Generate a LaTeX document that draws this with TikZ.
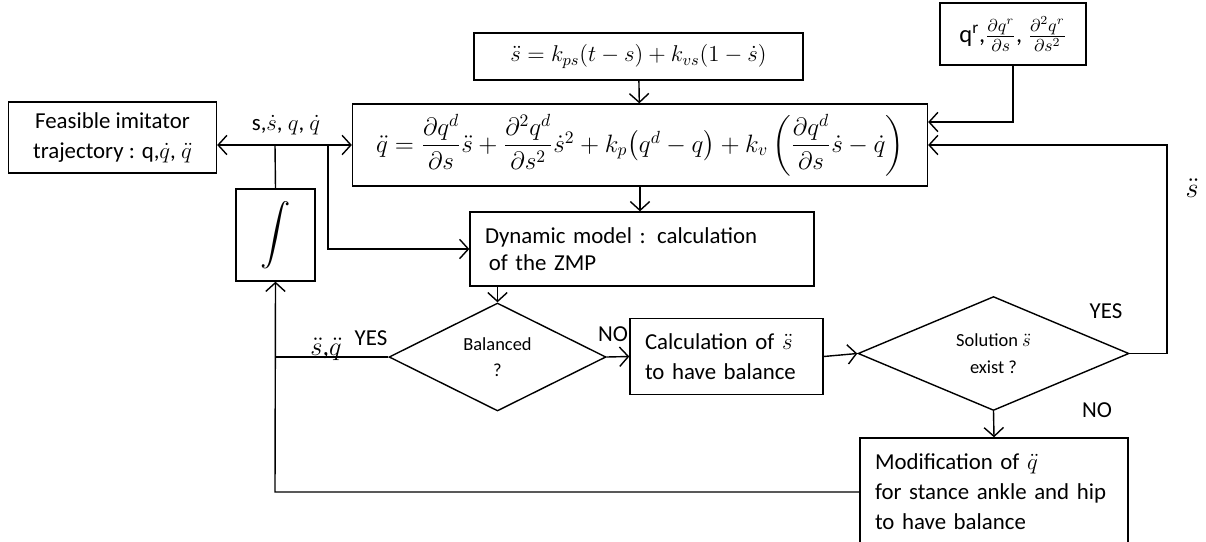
\RequirePackage{fix-cm}
\documentclass[tikz,border=0pt]{standalone}
\usepackage{amsmath}
\usepackage{fontspec}
\setmainfont{Carlito}
\usetikzlibrary{shapes.geometric,arrows.meta}

\tikzset{
    box/.style = {draw, inner sep=0.3cm, align=left, font=\fontsize{13}{15}\selectfont},
    decision/.style = {draw, diamond, inner sep=0pt, align=center, font=\fontsize{10.5}{15}\selectfont},
    lbl/.style = {font=\fontsize{13}{15}\selectfont}
}

\begin{document}
\begin{tikzpicture}[x=0.02cm, y=-0.02cm, >={Straight Barb[length=5pt,width=11pt]}, thick]
    \useasboundingbox (0,0) rectangle (1206,541);
    {
        \node[box, align=center, minimum width=4.16cm, minimum height=1.42cm, inner sep=0.1cm,
              font=\fontsize{13}{17}\selectfont] (feas) at (112.5,137.5)
              {Feasible imitator\\ trajectory : q,$\dot q$, $\ddot q$};
        \node[box, minimum width=1.58cm, minimum height=1.84cm, inner sep=0pt,
              font=\fontsize{17}{20}\selectfont] (integ) at (275.5,235) {$\displaystyle\int$};
        \node[box, align=center, minimum width=6.58cm, minimum height=0.94cm, inner sep=0pt,
              font=\fontsize{13}{15}\selectfont] (eqs) at (638.5,56.5)
              {$\ddot s = k_{ps}(t-s) + k_{vs}(1-\dot s)$};
        \node[box, align=center, minimum width=2.92cm, minimum height=1.24cm, inner sep=0pt,
              font=\fontsize{14}{16}\selectfont] (qref) at (1013,34)
              {q\textsuperscript{r},$\frac{\partial q^r}{\partial s}$, $\frac{\partial^2 q^r}{\partial s^2}$};
        \node[box, align=center, minimum width=11.5cm, minimum height=1.64cm, inner sep=0pt,
              font=\fontsize{14.3}{16}\selectfont] (eqq) at (640,145)
              {$\ddot q = \dfrac{\partial q^d}{\partial s}\ddot s + \dfrac{\partial^2 q^d}{\partial s^2}\dot s^2
               + k_p\big(q^d - q\big) + k_v\left(\dfrac{\partial q^d}{\partial s}\dot s - \dot q\right)$};
        \node[box, text width=6.28cm, minimum height=1.48cm] (dyn) at (642,249)
              {Dynamic model : calculation\\ \,of the ZMP};
        \node[decision, minimum width=4.34cm, minimum height=2.16cm] (bal) at (497.5,357) {Balanced\\ ?};
        \node[box, text width=3.26cm, minimum height=1.46cm, font=\fontsize{13}{17}\selectfont] (calc) at (726.5,356.5)
              {Calculation of $\ddot s$\\ to have balance};
        \node[decision, minimum width=5.42cm, minimum height=2.14cm] (sol) at (993.5,353.5) {Solution $\ddot s$\\ exist ?};
        \node[box, text width=4.76cm, minimum height=2.16cm, font=\fontsize{13}{17}\selectfont] (modif) at (994,492)
              {Modification of $\ddot q$\\ for stance ankle and hip\\ to have balance};
    }
        \coordinate (jl) at (275,145);
        \coordinate (jr) at (328,145);
        \coordinate (solr) at (1167,353.5);
        \coordinate (fb) at (275,492);

        \draw[->] (jl) -- (jl -| feas.east);
        \draw[->] (jl) -- (eqq.west);
        \draw (integ.north) -- (jl);
        \draw[->] (jr) |- (dyn.west);
        \draw[->] (eqs) -- (eqq);
        \draw[->] (eqq.south) -- (eqq.south |- dyn.north);
        \draw[->] (dyn.south -| bal) -- (bal.north);
        \draw[->] (bal.east) -- (calc.west);
        \draw[->] (calc.east) -- (sol.west);
        \draw[->] (sol.east) -- (solr) |- (eqq.east);
        \draw[->] (qref.south) |- ([yshift=0.46cm]eqq.east);
        \draw[->] (sol.south) -- (modif.north);
        \draw[->] (modif.west) -- (fb) -- (integ.south);
        \draw (bal.west) -- (bal.west -| fb);

        \node[lbl] (lsq) at (286,125) {s,$\dot s$, $q$, $\dot q$};
        \node[lbl, font=\fontsize{15}{17}\selectfont] (lacc) at (326,349) {$\ddot s$,$\ddot q$};
        \node[lbl] (lyes1) at (371,338) {YES};
        \node[lbl] (lno1) at (613,334) {NO};
        \node[lbl] (lyes2) at (1106,311) {YES};
        \node[lbl] (lno2) at (1097,410) {NO};
        \node[lbl, font=\fontsize{16}{18}\selectfont] (lsdd) at (1192,188) {$\ddot s$};
\end{tikzpicture}
\end{document}
